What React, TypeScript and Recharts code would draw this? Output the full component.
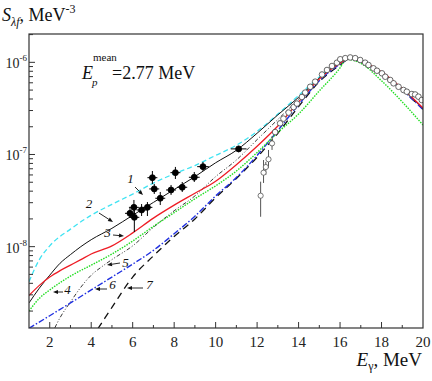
import React from "react"
import {
  ComposedChart,
  Line,
  Scatter,
  XAxis,
  YAxis,
  ErrorBar,
} from "recharts"

const SERIF = '"Liberation Serif", "Times New Roman", serif'
const AXIS = "#333"

// curve 1 (cyan dashed)
const c1X = [1, 1.5, 2, 3, 4, 5, 6, 7, 8, 9, 10, 11, 12, 13, 14, 15, 16, 16.5, 17, 18, 19, 20]
const c1Y = [4.17e-9, 7.24e-9, 1.02e-8, 1.55e-8, 2.19e-8, 2.88e-8, 3.72e-8, 4.9e-8, 6.17e-8, 7.59e-8, 9.77e-8, 1.26e-7, 1.78e-7, 2.75e-7, 4.37e-7, 6.92e-7, 1.0e-6, 1.114e-6, 1.02e-6, 7.76e-7, 5.13e-7, 3.16e-7]

// curve 2 (black solid)
const c2X = [1, 1.5, 2, 2.5, 3, 3.5, 4, 5, 6, 7, 8, 9, 10, 11, 12, 13, 14, 15, 16, 16.5, 17, 18, 19, 20]
const c2Y = [2.45e-9, 3.55e-9, 4.9e-9, 6.61e-9, 8.2e-9, 1.0e-8, 1.19e-8, 1.58e-8, 2.19e-8, 3.02e-8, 4.17e-8, 5.75e-8, 8.13e-8, 1.11e-7, 1.7e-7, 2.69e-7, 4.17e-7, 6.76e-7, 1.0e-6, 1.114e-6, 1.02e-6, 7.76e-7, 5.13e-7, 3.16e-7]

// curve 3 (red)
const c3X = [1, 1.5, 2, 2.5, 3, 3.5, 4, 5, 6, 7, 8, 9, 10, 11, 12, 13, 14, 15, 16, 16.5, 17, 18, 19, 20]
const c3Y = [2.95e-9, 3.8e-9, 4.68e-9, 5.5e-9, 6.31e-9, 7.24e-9, 8.32e-9, 1.02e-8, 1.41e-8, 2.04e-8, 2.82e-8, 3.8e-8, 5.13e-8, 7.76e-8, 1.23e-7, 2.04e-7, 3.72e-7, 6.61e-7, 9.77e-7, 1.11e-6, 1.03e-6, 7.9e-7, 5.2e-7, 3.2e-7]

// curve 4 (green dotted)
const c4X = [1, 1.5, 2, 2.5, 3, 4, 5, 6, 7, 8, 9, 10, 11, 12, 13, 14, 15, 16, 16.3, 17, 18, 19, 20]
const c4Y = [2.0e-9, 2.75e-9, 3.39e-9, 4.07e-9, 4.79e-9, 6.31e-9, 8.32e-9, 1.15e-8, 1.66e-8, 2.34e-8, 3.31e-8, 4.57e-8, 6.61e-8, 1.05e-7, 1.74e-7, 2.75e-7, 4.9e-7, 8.71e-7, 1.08e-6, 9.77e-7, 6.31e-7, 3.72e-7, 2.09e-7]

// curve 5 (black dash-dot-dot)
const c5X = [2, 2.5, 3, 3.5, 4, 4.5, 5, 6, 7, 8, 9, 10, 11, 12, 13, 14, 15, 16, 16.5, 17, 18, 19, 20]
const c5Y = [1.0e-9, 1.7e-9, 2.51e-9, 3.63e-9, 4.9e-9, 6.03e-9, 7.24e-9, 1.02e-8, 1.62e-8, 2.45e-8, 3.55e-8, 5.75e-8, 8.71e-8, 1.45e-7, 2.4e-7, 3.98e-7, 6.76e-7, 1.0e-6, 1.11e-6, 1.02e-6, 7.76e-7, 5.13e-7, 3.16e-7]

// curve 6 (blue dash-dot)
const c6X = [1, 2, 3, 4, 5, 6, 7, 8, 9, 10, 11, 12, 13, 14, 15, 16, 16.5, 17, 18, 19, 20]
const c6Y = [1.3e-9, 1.78e-9, 2.45e-9, 3.39e-9, 4.68e-9, 6.46e-9, 9.12e-9, 1.38e-8, 2.14e-8, 3.55e-8, 5.62e-8, 9.77e-8, 1.82e-7, 3.47e-7, 6.31e-7, 9.55e-7, 1.1e-6, 1.01e-6, 7.59e-7, 5.01e-7, 3.09e-7]

// curve 7 (black dashed)
const c7X = [4, 4.5, 5, 6, 7, 8, 9, 10, 11, 12, 13, 14, 15, 16, 16.5, 17, 18, 19, 20]
const c7Y = [1.0e-9, 1.48e-9, 2.19e-9, 4.68e-9, 7.94e-9, 1.29e-8, 2.0e-8, 3.39e-8, 5.5e-8, 9.33e-8, 1.7e-7, 3.31e-7, 6.17e-7, 9.33e-7, 1.1e-6, 1.01e-6, 7.59e-7, 5.01e-7, 3.09e-7]

// filled points with error bars
const expX = [5.87, 6.08, 6.06, 6.43, 6.71, 6.95, 7.04, 7.33, 7.85, 8.06, 8.39, 8.97, 9.39, 11.11]
const expXErr = [0.24, 0.24, 0.24, 0.24, 0.24, 0.24, 0.24, 0.24, 0.24, 0.24, 0.24, 0.26, 0.28, 0.38]
const expY = [2.3e-8, 2.08e-8, 2.67e-8, 2.5e-8, 2.67e-8, 5.6e-8, 4.23e-8, 3.35e-8, 4.12e-8, 6.35e-8, 4.41e-8, 5.66e-8, 7.38e-8, 1.15e-7]
const expYLo = [2.05e-8, 1.44e-8, 2.15e-8, 2.15e-8, 2.15e-8, 4.79e-8, 3.73e-8, 2.83e-8, 3.64e-8, 5.42e-8, 3.92e-8, 5.03e-8, 6.62e-8, 1.06e-7]
const expYHi = [2.63e-8, 2.63e-8, 3.21e-8, 2.9e-8, 3.05e-8, 6.62e-8, 4.79e-8, 3.92e-8, 4.67e-8, 7.33e-8, 5.03e-8, 6.46e-8, 8.3e-8, 1.24e-7]

// open circles, low group with vertical bars
const lowX = [12.17, 12.31, 12.42, 12.55, 12.72]
const lowY = [3.57e-8, 6.35e-8, 7.31e-8, 8.87e-8, 1.32e-7]
const lowYLo = [2.11e-8, 4.91e-8, 6.0e-8, 7.15e-8, 1.12e-7]
const lowYHi = [5.07e-8, 8.71e-8, 8.3e-8, 1.12e-7, 1.58e-7]

// open circles along the resonance
const resX = [12.87, 13.11, 13.27, 13.52, 13.76, 13.92, 14.16, 14.32, 14.56, 14.8, 15.13, 15.37, 15.61, 15.85, 16.01, 16.25, 16.49, 16.73, 16.97, 17.21, 17.37, 17.61, 17.78, 18.02, 18.18, 18.42, 18.58, 18.82, 19.06, 19.22, 19.46, 19.62, 19.78, 19.94]
const resY = [1.75e-7, 2.18e-7, 2.45e-7, 2.85e-7, 3.27e-7, 3.57e-7, 4.21e-7, 4.7e-7, 5.43e-7, 6.17e-7, 7.38e-7, 8.26e-7, 9.12e-7, 9.91e-7, 1.08e-6, 1.11e-6, 1.13e-6, 1.11e-6, 1.06e-6, 9.91e-7, 9.35e-7, 8.61e-7, 8.11e-7, 7.6e-7, 6.98e-7, 6.43e-7, 5.92e-7, 5.43e-7, 5.01e-7, 4.8e-7, 4.53e-7, 4.48e-7, 4.24e-7, 3.9e-7]

const xTicks = [1, 2, 3, 4, 5, 6, 7, 8, 9, 10, 11, 12, 13, 14, 15, 16, 17, 18, 19, 20]
const yTicks = [
  2e-9, 3e-9, 4e-9, 5e-9, 6e-9, 7e-9, 8e-9, 9e-9,
  1e-8, 2e-8, 3e-8, 4e-8, 5e-8, 6e-8, 7e-8, 8e-8, 9e-8,
  1e-7, 2e-7, 3e-7, 4e-7, 5e-7, 6e-7, 7e-7, 8e-7, 9e-7,
  1e-6, 2e-6,
]
const yDomain = [1.31e-9, 2.03e-6]

const zip = (xs: number[], ys: number[]) => xs.map((x, i) => ({ x, y: ys[i] }))

const expData = expX.map((x, i) => ({
  x,
  y: expY[i],
  ex: expXErr[i],
  ey: [expY[i] - expYLo[i], expYHi[i] - expY[i]],
}))
const lowData = lowX.map((x, i) => ({
  x,
  y: lowY[i],
  ey: [lowY[i] - lowYLo[i], lowYHi[i] - lowY[i]],
}))
const resData = zip(resX, resY)

function XTick(props: any) {
  const { x, y, payload } = props
  const v = payload.value
  const major = v % 2 === 0
  return (
    <g>
      {v > 1 && v < 20 && (
        <line x1={x} y1={y} x2={x} y2={y - (major ? 6 : 3)} stroke={AXIS} strokeWidth={1} />
      )}
      {major && (
        <text x={x} y={y + 19} textAnchor="middle" fontFamily={SERIF} fontSize={15} fill="#222">
          {v}
        </text>
      )}
    </g>
  )
}

function YTick(props: any) {
  const { x, y, payload } = props
  const lg = Math.log10(payload.value)
  const decade = Math.abs(lg - Math.round(lg)) < 1e-6
  return (
    <g>
      <line x1={x} y1={y} x2={x + (decade ? 6 : 4)} y2={y} stroke={AXIS} strokeWidth={1} />
      {decade && (
        <text x={x - 2} y={y + 6} textAnchor="end" fontFamily={SERIF} fontSize={14} fill="#222">
          10
          <tspan fontSize={9} dy={-7}>
            {Math.round(lg)}
          </tspan>
        </text>
      )}
    </g>
  )
}

const dot = (fill: string, stroke: string, r: number) => (p: any) =>
  <circle cx={p.cx} cy={p.cy} r={r} fill={fill} stroke={stroke} strokeWidth={0.8} />

function Arrow({ x1, y1, x2, y2 }: { x1: number; y1: number; x2: number; y2: number }) {
  const a = Math.atan2(y2 - y1, x2 - x1)
  const L = 5
  const w = 2
  const bx = x2 - L * Math.cos(a)
  const by = y2 - L * Math.sin(a)
  const px = -Math.sin(a) * w
  const py = Math.cos(a) * w
  return (
    <g>
      <line x1={x1} y1={y1} x2={bx} y2={by} stroke="#111" strokeWidth={0.9} />
      <polygon points={`${x2},${y2} ${bx + px},${by + py} ${bx - px},${by - py}`} fill="#111" />
    </g>
  )
}

const labels = [
  { t: "1", x: 130.5, y: 183, ax: [135, 187, 143, 195] },
  { t: "2", x: 89, y: 208, ax: [99, 213, 113, 222] },
  { t: "3", x: 107.5, y: 237, ax: [113, 235, 124, 236] },
  { t: "4", x: 67.5, y: 294, ax: [63, 292, 53, 292] },
  { t: "5", x: 125.5, y: 267, ax: [120, 263, 107, 265] },
  { t: "6", x: 112.5, y: 289, ax: [107, 289, 95, 289] },
  { t: "7", x: 149.5, y: 289, ax: [143, 288, 127, 288] },
]

export default function App() {
  return (
    <div style={{ position: "absolute", left: 0, top: 0, width: 432, height: 381, background: "#fff" }}>
      <ComposedChart width={432} height={381} margin={{ top: 34, right: 9, bottom: 52, left: 28 }}>
        <XAxis
          dataKey="x"
          type="number"
          domain={[1, 20]}
          ticks={xTicks}
          interval={0}
          allowDataOverflow
          height={1}
          tickSize={0}
          tickMargin={0}
          tick={<XTick />}
          axisLine={false}
          tickLine={false}
        />
        <YAxis
          dataKey="y"
          type="number"
          scale="log"
          domain={yDomain}
          ticks={yTicks}
          interval={0}
          allowDataOverflow
          width={1}
          tickSize={0}
          tickMargin={0}
          tick={<YTick />}
          axisLine={false}
          tickLine={false}
        />

        <Line data={zip(c1X, c1Y)} dataKey="y" type="monotone" stroke="#3fe3f2" strokeWidth={1.3} strokeDasharray="5 3" dot={false} isAnimationActive={false} />
        <Line data={zip(c2X, c2Y)} dataKey="y" type="monotone" stroke="#111" strokeWidth={1} dot={false} isAnimationActive={false} />
        <Line data={zip(c5X, c5Y)} dataKey="y" type="monotone" stroke="#222" strokeWidth={0.9} strokeDasharray="4 2 1 2 1 2" dot={false} isAnimationActive={false} />
        <Line data={zip(c7X, c7Y)} dataKey="y" type="monotone" stroke="#111" strokeWidth={1.3} strokeDasharray="7 5" dot={false} isAnimationActive={false} />
        <Line data={zip(c6X, c6Y)} dataKey="y" type="monotone" stroke="#2030e0" strokeWidth={1.4} strokeDasharray="6 2 1.5 2" dot={false} isAnimationActive={false} />
        <Line data={zip(c4X, c4Y)} dataKey="y" type="monotone" stroke="#22dd22" strokeWidth={1.4} strokeDasharray="1.5 1.2" dot={false} isAnimationActive={false} />
        <Line data={zip(c3X, c3Y)} dataKey="y" type="monotone" stroke="#ee1c25" strokeWidth={1.3} dot={false} isAnimationActive={false} />

        <Scatter data={lowData} dataKey="y" shape={dot("#fff", "#555", 2.6)} isAnimationActive={false}>
          <ErrorBar dataKey="ey" direction="y" width={0} stroke="#555" strokeWidth={1} />
        </Scatter>
        <Scatter data={resData} dataKey="y" shape={dot("#fff", "#444", 2.8)} isAnimationActive={false} />
        <Scatter data={expData} dataKey="y" shape={dot("#000", "#000", 3)} isAnimationActive={false}>
          <ErrorBar dataKey="ey" direction="y" width={0} stroke="#000" strokeWidth={1} />
          <ErrorBar dataKey="ex" direction="x" width={0} stroke="#000" strokeWidth={1} />
        </Scatter>
      </ComposedChart>

      <svg width={432} height={381} style={{ position: "absolute", left: 0, top: 0, pointerEvents: "none" }}>
        <rect x={29} y={34} width={394} height={294} fill="none" stroke={AXIS} strokeWidth={1.2} />

        <text x={2} y={21} fontFamily={SERIF} fontSize={18} fill="#111">
          <tspan fontStyle="italic">S</tspan>
          <tspan fontStyle="italic" fontSize={12} dy={5}>λf</tspan>
          <tspan dy={-5}>, MeV</tspan>
          <tspan fontSize={12} dy={-8}>-3</tspan>
        </text>

        <text x={422} y={366} textAnchor="end" fontFamily={SERIF} fontSize={19} fill="#111">
          <tspan fontStyle="italic">E</tspan>
          <tspan fontSize={12} dy={4}>γ</tspan>
          <tspan dy={-4}>, MeV</tspan>
        </text>

        <text x={82} y={79} fontFamily={SERIF} fontSize={18} fontStyle="italic" fill="#111">E</text>
        <text x={93} y={61} fontFamily={SERIF} fontSize={11} fill="#111">mean</text>
        <text x={92} y={86} fontFamily={SERIF} fontSize={11} fontStyle="italic" fill="#111">p</text>
        <text x={112} y={79} fontFamily={SERIF} fontSize={18} fill="#111">=2.77 MeV</text>

        {labels.map((l) => (
          <g key={l.t}>
            <text x={l.x} y={l.y} textAnchor="middle" fontFamily={SERIF} fontSize={13} fontStyle="italic" fill="#111">
              {l.t}
            </text>
            <Arrow x1={l.ax[0]} y1={l.ax[1]} x2={l.ax[2]} y2={l.ax[3]} />
          </g>
        ))}
      </svg>
    </div>
  )
}
